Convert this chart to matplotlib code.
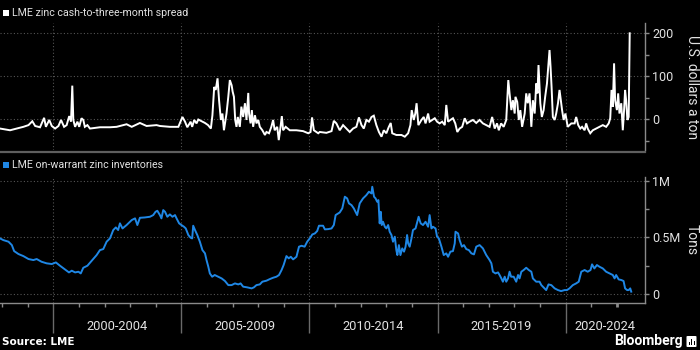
import matplotlib
matplotlib.use("Agg")
import matplotlib.pyplot as plt
from matplotlib.patches import Rectangle, FancyBboxPatch
from matplotlib.lines import Line2D
import matplotlib.transforms as mtransforms

# ---------------- data ----------------
spread_years = [
    1997.92, 1998.31, 1998.57, 1998.83, 1999.03, 1999.18, 1999.29, 1999.48, 1999.64, 1999.71,
    1999.84, 1999.94, 2000.07, 2000.20, 2000.30, 2000.42, 2000.52, 2000.62, 2000.69, 2000.74,
    2000.78, 2000.85, 2000.94, 2001.01, 2001.10, 2001.17, 2001.23, 2001.33, 2001.43, 2001.82,
    2002.21, 2002.47, 2002.86, 2003.06, 2003.38, 2003.64, 2004.03, 2004.16, 2004.55, 2004.88,
    2005.04, 2005.14, 2005.23, 2005.36, 2005.42, 2005.50, 2005.59, 2005.66, 2005.79, 2005.92,
    2006.04, 2006.15, 2006.21, 2006.28, 2006.34, 2006.41, 2006.47, 2006.54, 2006.60, 2006.66,
    2006.71, 2006.76, 2006.83, 2006.89, 2006.96, 2007.00, 2007.05, 2007.10, 2007.15, 2007.20,
    2007.28, 2007.34, 2007.41, 2007.48, 2007.54, 2007.61, 2007.64, 2007.70, 2007.75, 2007.80,
    2007.87, 2007.93, 2008.00, 2008.06, 2008.16, 2008.26, 2008.32, 2008.42, 2008.51, 2008.58,
    2008.64, 2008.74, 2008.80, 2008.87, 2008.92, 2008.97, 2009.07, 2009.23, 2009.49, 2009.75,
    2009.95, 2010.04, 2010.10, 2010.17, 2010.34, 2010.40, 2010.66, 2010.86, 2010.95, 2011.05,
    2011.18, 2011.31, 2011.44, 2011.57, 2011.70, 2011.83, 2011.93, 2012.03, 2012.12, 2012.22,
    2012.32, 2012.42, 2012.51, 2012.61, 2012.71, 2012.81, 2012.90, 2013.00, 2013.09, 2013.17,
    2013.23, 2013.39, 2013.59, 2013.72, 2013.85, 2013.94, 2013.99, 2014.07, 2014.13, 2014.18,
    2014.25, 2014.37, 2014.46, 2014.53, 2014.63, 2014.69, 2014.79, 2014.89, 2014.98, 2015.08,
    2015.18, 2015.28, 2015.34, 2015.41, 2015.50, 2015.60, 2015.69, 2015.77, 2015.86, 2015.96,
    2016.06, 2016.15, 2016.25, 2016.38, 2016.51, 2016.64, 2016.77, 2016.90, 2017.03, 2017.13,
    2017.23, 2017.32, 2017.39, 2017.48, 2017.58, 2017.68, 2017.76, 2017.81, 2017.88, 2017.94,
    2018.01, 2018.04, 2018.11, 2018.17, 2018.23, 2018.30, 2018.40, 2018.46, 2018.52, 2018.59,
    2018.66, 2018.72, 2018.79, 2018.85, 2018.90, 2018.94, 2019.01, 2019.07, 2019.14, 2019.20,
    2019.27, 2019.33, 2019.37, 2019.41, 2019.45, 2019.50, 2019.57, 2019.63, 2019.70, 2019.76,
    2019.81, 2019.86, 2019.92, 2019.99, 2020.08, 2020.22, 2020.35, 2020.41, 2020.49, 2020.57,
    2020.64, 2020.74, 2020.80, 2020.86, 2020.96, 2021.06, 2021.19, 2021.32, 2021.45, 2021.58,
    2021.68, 2021.74, 2021.79, 2021.84, 2021.89, 2021.93, 2022.00, 2022.05, 2022.10, 2022.17,
    2022.23, 2022.28, 2022.32, 2022.36, 2022.41, 2022.46, 2022.50,
]
spread_usd = [
    -22, -26, -22, -18, -14, -5, -16, -19, 3, -18,
    -2, -16, -22, -16, -2, -18, -14, 7, -6, 78,
    -2, -18, -6, -18, 2, -2, -18, -14, -22, -19,
    -19, -18, -12, -18, -9, -16, -14, -16, -18, -18,
    5, -6, -19, -6, -18, -2, -10, -1, -5, -9,
    -14, -22, 9, 75, 68, 95, 44, -2, 13, -26,
    -6, 13, 52, 91, 79, 64, 52, -2, -18, 5,
    -18, 29, 5, 37, -2, 61, 13, -10, 21, -18,
    9, -10, -2, -18, -26, -37, -30, -33, -18, -2,
    -26, -18, -49, -18, 7, -26, -18, -26, -26, -28,
    -33, -30, 4, -26, -33, -30, -32, -28, -4, -10,
    -26, -14, -22, -30, -22, -18, 4, -14, -22, -2,
    -6, 5, 8, -14, -30, -41, -26, -33, -19, -9,
    -33, -37, -37, -41, -33, -14, 21, -2, 13, 37,
    -14, -2, 5, -10, 13, -6, -2, 2, -6, -10,
    -6, -14, 33, -6, -2, 2, -10, -30, -22, -18,
    2, -10, -6, -2, -9, -2, -10, -14, -18, 5,
    -22, -10, -26, -10, -18, -2, 91, 60, 21, 44,
    13, 52, 40, -2, 21, -18, 13, 60, 37, 60,
    -18, 44, 13, 83, 60, 126, 37, 5, 21, 52,
    83, 130, 161, 122, 75, 5, -2, 13, 37, 68,
    44, 21, -2, 13, -18, -10, -10, 5, -14, -22,
    -18, -26, -10, -22, -33, -26, -22, -18, -14, -18,
    -10, 2, 68, 29, 130, 44, 21, 60, 13, 37,
    -26, 21, 68, 44, -2, 5, 200,
]

inv_years = [
    1997.92, 1998.05, 1998.25, 1998.38, 1998.47, 1998.64, 1998.83, 1999.03, 1999.22, 1999.35,
    1999.54, 1999.74, 1999.94, 2000.10, 2000.26, 2000.45, 2000.61, 2000.72, 2000.85, 2000.98,
    2001.07, 2001.17, 2001.33, 2001.50, 2001.69, 2001.82, 2001.95, 2002.08, 2002.21, 2002.34,
    2002.44, 2002.53, 2002.60, 2002.70, 2002.86, 2003.06, 2003.19, 2003.28, 2003.38, 2003.57,
    2003.77, 2003.90, 2003.99, 2004.06, 2004.16, 2004.22, 2004.29, 2004.36, 2004.45, 2004.55,
    2004.65, 2004.75, 2004.81, 2004.91, 2005.00, 2005.10, 2005.17, 2005.27, 2005.36, 2005.42,
    2005.46, 2005.53, 2005.62, 2005.72, 2005.82, 2005.92, 2005.98, 2006.05, 2006.11, 2006.20,
    2006.30, 2006.44, 2006.57, 2006.70, 2006.83, 2006.96, 2007.09, 2007.22, 2007.31, 2007.41,
    2007.57, 2007.74, 2007.83, 2007.93, 2008.06, 2008.16, 2008.32, 2008.45, 2008.58, 2008.71,
    2008.81, 2008.91, 2008.99, 2009.10, 2009.19, 2009.27, 2009.36, 2009.49, 2009.59, 2009.69,
    2009.81, 2009.91, 2010.01, 2010.11, 2010.21, 2010.30, 2010.37, 2010.53, 2010.60, 2010.73,
    2010.86, 2010.95, 2011.02, 2011.18, 2011.28, 2011.38, 2011.47, 2011.54, 2011.64, 2011.73,
    2011.86, 2011.96, 2012.09, 2012.22, 2012.32, 2012.42, 2012.45, 2012.52, 2012.58, 2012.64,
    2012.69, 2012.74, 2012.78, 2012.82, 2012.87, 2012.94, 2013.00, 2013.07, 2013.13, 2013.20,
    2013.26, 2013.33, 2013.39, 2013.43, 2013.49, 2013.55, 2013.62, 2013.69, 2013.75, 2013.81,
    2013.85, 2013.91, 2013.98, 2014.04, 2014.14, 2014.21, 2014.26, 2014.34, 2014.43, 2014.53,
    2014.63, 2014.69, 2014.76, 2014.82, 2014.92, 2014.98, 2015.05, 2015.15, 2015.24, 2015.34,
    2015.41, 2015.50, 2015.60, 2015.67, 2015.70, 2015.80, 2015.86, 2015.95, 2016.03, 2016.12,
    2016.22, 2016.32, 2016.42, 2016.51, 2016.64, 2016.77, 2016.90, 2017.03, 2017.10, 2017.16,
    2017.26, 2017.36, 2017.42, 2017.49, 2017.55, 2017.62, 2017.68, 2017.75, 2017.81, 2017.87,
    2017.97, 2018.07, 2018.14, 2018.20, 2018.27, 2018.36, 2018.46, 2018.56, 2018.66, 2018.72,
    2018.85, 2018.98, 2019.05, 2019.11, 2019.24, 2019.33, 2019.44, 2019.57, 2019.70, 2019.82,
    2019.96, 2020.05, 2020.15, 2020.28, 2020.41, 2020.51, 2020.61, 2020.74, 2020.86, 2020.97,
    2021.03, 2021.12, 2021.22, 2021.32, 2021.45, 2021.58, 2021.71, 2021.84, 2021.91, 2021.97,
    2022.07, 2022.17, 2022.26, 2022.32, 2022.40, 2022.46, 2022.52, 2022.56,
]
inv_kt = [
    491, 476, 462, 432, 379, 353, 335, 309, 300, 309,
    285, 271, 265, 279, 250, 218, 191, 206, 191, 197,
    182, 232, 250, 294, 344, 388, 397, 462, 491, 565,
    588, 565, 624, 579, 609, 653, 668, 609, 673, 676,
    682, 697, 726, 735, 697, 668, 741, 726, 682, 703,
    682, 697, 668, 624, 609, 594, 579, 521, 497, 491,
    603, 565, 521, 462, 388, 359, 300, 241, 182, 153,
    168, 153, 138, 115, 79, 79, 94, 85, 94, 65,
    59, 50, 59, 79, 85, 109, 118, 132, 144, 153,
    168, 212, 256, 335, 315, 329, 306, 329, 418, 426,
    418, 462, 491, 526, 535, 556, 603, 603, 571, 573,
    579, 609, 697, 720, 756, 859, 844, 800, 785, 756,
    697, 800, 844, 873, 903, 888, 947, 859, 844, 815,
    829, 624, 726, 609, 638, 594, 579, 609, 550, 521,
    462, 506, 388, 344, 432, 344, 403, 374, 418, 521,
    447, 418, 491, 565, 579, 638, 682, 624, 609, 638,
    594, 697, 579, 594, 579, 506, 491, 418, 344, 359,
    329, 374, 379, 447, 550, 535, 476, 418, 432, 397,
    388, 359, 350, 418, 432, 403, 344, 300, 271, 197,
    182, 191, 168, 138, 109, 153, 109, 138, 197, 153,
    153, 109, 168, 138, 197, 212, 232, 212, 197, 138,
    109, 109, 79, 65, 35, 85, 79, 50, 35, 26,
    35, 35, 50, 79, 94, 109, 197, 212, 197, 212,
    262, 226, 256, 241, 226, 197, 182, 168, 138, 168,
    129, 124, 115, 50, 35, 35, 50, 21,
]

period_starts = [2000, 2005, 2010, 2015, 2020]
period_labels = ["2000-2004", "2005-2009", "2010-2014", "2015-2019", "2020-2024"]
spread_ticks = [0, 100, 200]
spread_tick_labels = ["0", "100", "200"]
inv_ticks = [0, 500, 1000]
inv_tick_labels = ["0", "0.5M", "1M"]

# ---------------- styling ----------------
W, H = 700, 350
BG = "black"
GRID = "#555555"
SPINE = "#8a8a8a"
TXT = "#e2e2e2"
BLUE = "#1f87e5"
FONT = "Roboto"
XMIN, XMAX = 1997.918, 2023.097

fig = plt.figure(figsize=(7, 3.5), dpi=100, facecolor=BG)

def fx(px):
    return px / W

def fy(py):
    return 1 - py / H

ax1 = fig.add_axes([0, fy(150), fx(645), (150 - 23) / H])
ax2 = fig.add_axes([0, fy(303), fx(645), (303 - 177) / H])

for ax in (ax1, ax2):
    ax.set_facecolor(BG)
    ax.set_xlim(XMIN, XMAX)
    for s in ("left", "top", "bottom"):
        ax.spines[s].set_visible(False)
    ax.spines["right"].set_color(SPINE)
    ax.spines["right"].set_linewidth(1.0)
    ax.yaxis.tick_right()
    ax.tick_params(axis="y", which="both", colors=SPINE, length=3, width=1,
                   pad=2, labelcolor=TXT, labelsize=9)
    ax.set_xticks(period_starts)
    ax.grid(True, which="major", color=GRID, linestyle=(0, (1, 2)), linewidth=0.8)

# top panel
ax1.plot(spread_years, spread_usd, color="white", linewidth=1.4, solid_joinstyle="miter")
ax1.set_ylim(-72, 224)
ax1.set_yticks(spread_ticks)
ax1.set_yticklabels(spread_tick_labels, fontfamily=FONT)
ax1.set_yticks([-50, 50, 150], minor=True)
ax1.tick_params(axis="x", which="both", length=0, labelbottom=False)

# bottom panel
ax2.plot(inv_years, inv_kt, color=BLUE, linewidth=1.4)
ax2.set_ylim(-79, 1033)
ax2.set_yticks(inv_ticks)
ax2.set_yticklabels(inv_tick_labels, fontfamily=FONT)
ax2.set_yticks([250, 750], minor=True)
ax2.spines["bottom"].set_visible(True)
ax2.spines["bottom"].set_color(SPINE)
ax2.spines["bottom"].set_linewidth(1.0)
ax2.set_xticks(list(range(1998, 2023)), minor=True)
ax2.tick_params(axis="x", which="major", length=21.6, width=1, color="#6a6a6a",
                labelbottom=False, direction="out")
ax2.tick_params(axis="x", which="minor", length=3, width=1, color=SPINE, direction="out")
for loc, t in zip(ax2.xaxis.get_minorticklocs(), ax2.xaxis.get_minor_ticks()):
    if abs(loc - 2022) < 1e-6:
        t.tick1line.set_color("white")
        t.tick1line.set_markeredgewidth(2)

trans = mtransforms.blended_transform_factory(ax2.transData, ax2.transAxes)
label_y = -(326.5 - 303) / (303 - 177)
for start, lab in zip(period_starts, period_labels):
    end = min(start + 5, XMAX)
    ax2.text((start + end) / 2, label_y, lab, transform=trans, ha="center", va="center",
             color=TXT, fontsize=9.3, fontfamily=FONT)

# separator between panels
fig.add_artist(Line2D([0, fx(645)], [fy(152.3), fy(152.3)], color="#5f5f5f", linewidth=1.6))

# legends
fig.add_artist(Rectangle((fx(3), fy(16)), fx(6), 6 / H, facecolor="white", edgecolor="none"))
fig.text(fx(12.5), fy(13), "LME zinc cash-to-three-month spread", color=TXT,
         fontsize=7.7, fontfamily=FONT, va="center", ha="left")
fig.add_artist(Rectangle((fx(3), fy(167.7)), fx(6), 6 / H, facecolor=BLUE, edgecolor="none"))
fig.text(fx(12.5), fy(164.7), "LME on-warrant zinc inventories", color=TXT,
         fontsize=7.7, fontfamily=FONT, va="center", ha="left")

# axis titles
fig.text(fx(692), fy(87.5), "U.S. dollars a ton", rotation=270, color=TXT, fontsize=10,
         fontfamily=FONT, ha="center", va="center")
fig.text(fx(692), fy(240), "Tons", rotation=270, color=TXT, fontsize=10,
         fontfamily=FONT, ha="center", va="center")

# footer
fig.text(fx(2), fy(342), "Source: LME", color="white", fontsize=7.5,
         fontfamily="DejaVu Sans", fontweight="bold", ha="left", va="center")
fig.text(fx(683), fy(341), "Bloomberg", color="white", fontsize=10,
         fontfamily=FONT, fontweight="bold", ha="right", va="center")
fig.add_artist(FancyBboxPatch((fx(686.5), fy(347)), fx(10), 11 / H,
                              boxstyle="round,pad=0,rounding_size=0.002",
                              facecolor="white", edgecolor="none"))
for bx, btop in ((688.5, 342), (691.0, 339), (693.5, 341)):
    fig.add_artist(Rectangle((fx(bx), fy(345)), fx(1.3), (345 - btop) / H,
                             facecolor="black", edgecolor="none"))

fig.savefig("out.png", dpi=100, facecolor=BG)
